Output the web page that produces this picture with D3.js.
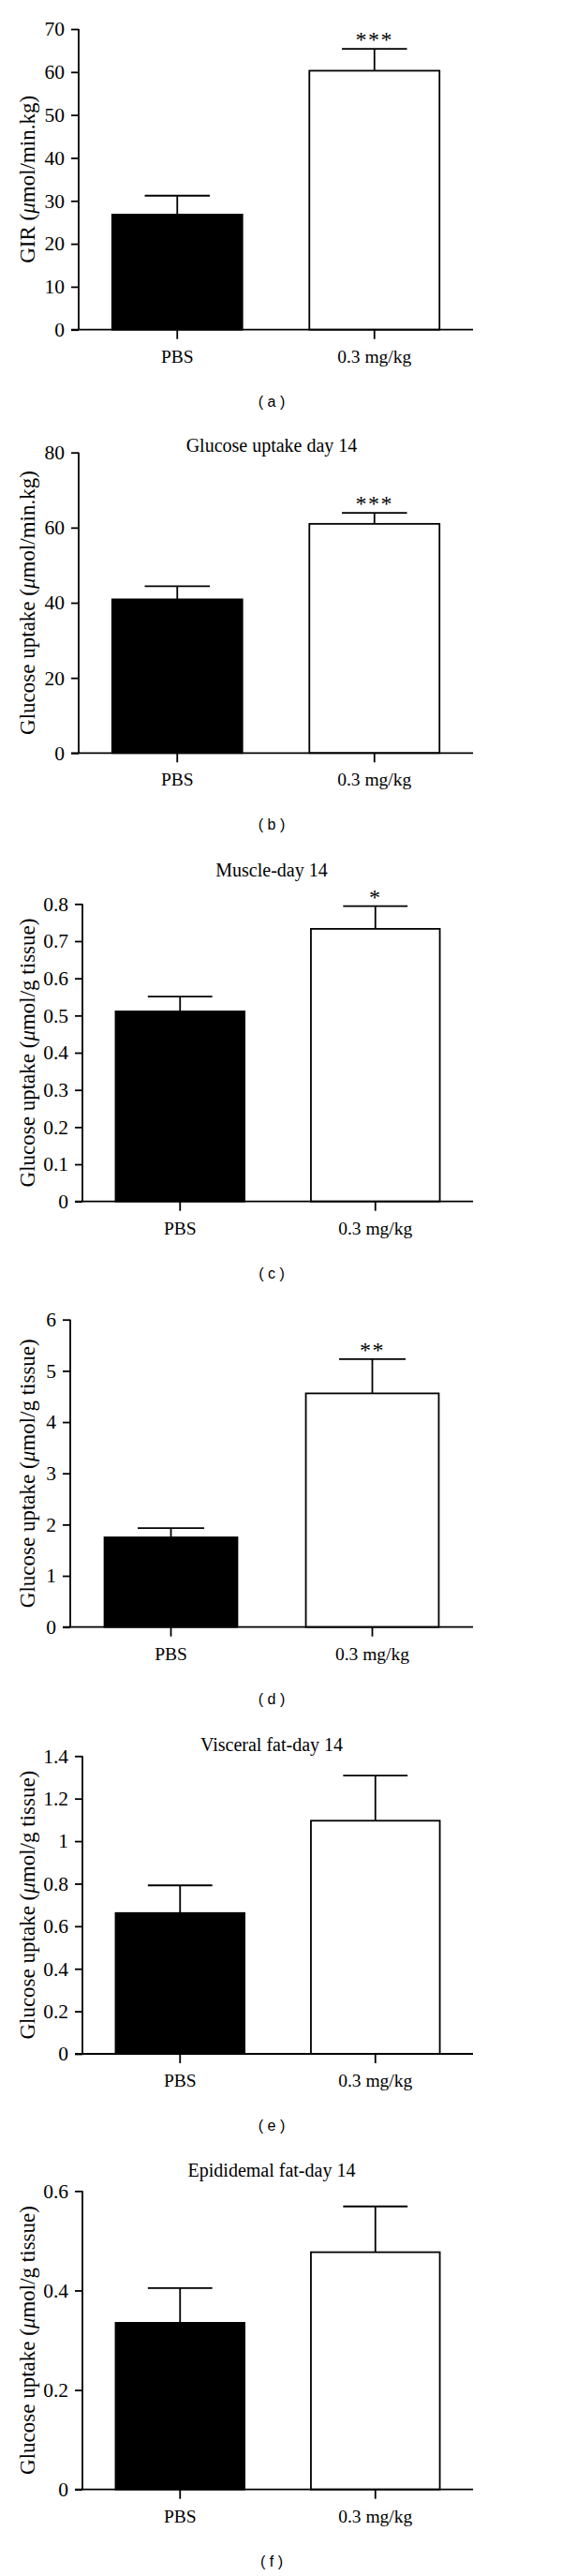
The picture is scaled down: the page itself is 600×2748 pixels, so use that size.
<!DOCTYPE html>
<html>
<head>
<meta charset="utf-8">
<script src="https://cdn.jsdelivr.net/npm/d3@7"></script>
<style>
  html, body { margin: 0; padding: 0; background: #fff; }
  svg { display: block; }
</style>
</head>
<body>
<div id="chart"></div>
<script>
// ---------- data ----------
const categories = ["PBS", "0.3 mg/kg"];

const girMeans = [26.8, 60.3];
const girErrors = [4.4, 5.1];

const uptakeDay14Means = [40.9, 61.0];
const uptakeDay14Errors = [3.5, 2.9];

const muscleMeans = [0.511, 0.733];
const muscleErrors = [0.040, 0.061];

const tissueMeans = [1.75, 4.56];
const tissueErrors = [0.18, 0.67];

const visceralMeans = [0.662, 1.096];
const visceralErrors = [0.130, 0.212];

const epididymalMeans = [0.335, 0.477];
const epididymalErrors = [0.070, 0.092];

const girTicks = [0, 10, 20, 30, 40, 50, 60, 70];
const uptakeDay14Ticks = [0, 20, 40, 60, 80];
const muscleTicks = [0, 0.1, 0.2, 0.3, 0.4, 0.5, 0.6, 0.7, 0.8];
const tissueTicks = [0, 1, 2, 3, 4, 5, 6];
const visceralTicks = [0, 0.2, 0.4, 0.6, 0.8, 1, 1.2, 1.4];
const epididymalTicks = [0, 0.2, 0.4, 0.6];

const panelTitles = ["", "Glucose uptake day 14", "Muscle-day 14", "", "Visceral fat-day 14", "Epididemal fat-day 14"];
const panelLetters = ["a", "b", "c", "d", "e", "f"];
const significance = [["", "***"], ["", "***"], ["", "*"], ["", "**"], ["", ""], ["", ""]];
const yLabelPrefixes = ["GIR (", "Glucose uptake (", "Glucose uptake (", "Glucose uptake (", "Glucose uptake (", "Glucose uptake ("];
const yLabelUnits = ["mol/min.kg)", "mol/min.kg)", "mol/g tissue)", "mol/g tissue)", "mol/g tissue)", "mol/g tissue)"];

const means = [girMeans, uptakeDay14Means, muscleMeans, tissueMeans, visceralMeans, epididymalMeans];
const errors = [girErrors, uptakeDay14Errors, muscleErrors, tissueErrors, visceralErrors, epididymalErrors];
const ticks = [girTicks, uptakeDay14Ticks, muscleTicks, tissueTicks, visceralTicks, epididymalTicks];
const barFills = ["#000000", "#ffffff"];

// ---------- layout ----------
const W = 600, H = 2748;
const layout = [
  { axisX: 84, top: 31,     base: 351.7,  titleY: null },
  { axisX: 84, top: 482.7,  base: 803.3,  titleY: 481.5 },
  { axisX: 88, top: 964.3,  base: 1281.7, titleY: 935 },
  { axisX: 75, top: 1407.7, base: 1735.7, titleY: null },
  { axisX: 88, top: 1873.3, base: 2191,   titleY: 1868 },
  { axisX: 88, top: 2337.3, base: 2655.7, titleY: 2322 }
];
const xEnd = 505;
const centerX = 290;
const serif = "'Liberation Serif', 'Times New Roman', serif";
const sans = "'Liberation Sans', Arial, sans-serif";
const SW = 1.8;

const svg = d3.select("#chart").append("svg")
  .attr("width", W).attr("height", H)
  .attr("viewBox", `0 0 ${W} ${H}`);
svg.append("rect").attr("width", W).attr("height", H).attr("fill", "#fff");

layout.forEach((L, i) => {
  const g = svg.append("g");
  const tk = ticks[i];
  const y = d3.scaleLinear().domain([0, tk[tk.length - 1]]).range([L.base, L.top]);
  const x = d3.scaleBand().domain(categories).range([L.axisX, xEnd])
    .paddingInner(0.34).paddingOuter(0.17);

  const data = categories.map((c, k) => ({ c, m: means[i][k], e: errors[i][k], fill: barFills[k], sig: significance[i][k] }));

  // error bars
  const eb = g.selectAll(".eb").data(data).enter().append("g");
  eb.append("line")
    .attr("x1", d => x(d.c) + x.bandwidth() / 2).attr("x2", d => x(d.c) + x.bandwidth() / 2)
    .attr("y1", d => y(d.m)).attr("y2", d => y(d.m + d.e))
    .attr("stroke", "#000").attr("stroke-width", SW);
  eb.append("line")
    .attr("x1", d => x(d.c) + x.bandwidth() / 4).attr("x2", d => x(d.c) + x.bandwidth() * 3 / 4)
    .attr("y1", d => y(d.m + d.e)).attr("y2", d => y(d.m + d.e))
    .attr("stroke", "#000").attr("stroke-width", SW);

  // bars
  g.selectAll(".bar").data(data).enter().append("rect")
    .attr("x", d => x(d.c)).attr("width", x.bandwidth())
    .attr("y", d => y(d.m)).attr("height", d => y(0) - y(d.m))
    .attr("fill", d => d.fill).attr("stroke", "#000").attr("stroke-width", SW);

  // significance stars
  g.selectAll(".sig").data(data.filter(d => d.sig)).enter().append("text")
    .attr("x", d => x(d.c) + x.bandwidth() / 2)
    .attr("y", d => y(d.m + d.e) - 2)
    .attr("text-anchor", "middle")
    .attr("font-family", serif).attr("font-size", 24)
    .attr("letter-spacing", 1.5)
    .text(d => d.sig);

  // y axis
  const yAxis = d3.axisLeft(y).tickValues(tk).tickSize(8).tickPadding(7)
    .tickFormat(d => String(+d.toFixed(2)));
  const ya = g.append("g").attr("transform", `translate(${L.axisX},0)`).call(yAxis);
  ya.select(".domain").remove();
  ya.append("line").attr("x1", 0).attr("x2", 0).attr("y1", L.base).attr("y2", L.top)
    .attr("stroke", "#000").attr("stroke-width", SW);
  ya.selectAll(".tick line").attr("stroke", "#000").attr("stroke-width", SW);
  ya.selectAll(".tick text").attr("font-family", serif).attr("font-size", 21.5).attr("fill", "#000");

  // x axis
  const xAxis = d3.axisBottom(x).tickSize(10).tickPadding(14);
  const xa = g.append("g").attr("transform", `translate(0,${L.base})`).call(xAxis);
  xa.select(".domain").remove();
  xa.append("line").attr("x1", L.axisX - 8).attr("x2", xEnd).attr("y1", 0).attr("y2", 0)
    .attr("stroke", "#000").attr("stroke-width", SW);
  xa.selectAll(".tick line").attr("stroke", "#000").attr("stroke-width", SW);
  xa.selectAll(".tick text").attr("font-family", serif).attr("font-size", 19.5).attr("fill", "#000")
    .attr("dy", null).attr("y", 35);

  // y label
  const yl = g.append("text")
    .attr("transform", `translate(37,${(L.base + L.top) / 2}) rotate(-90)`)
    .attr("text-anchor", "middle")
    .attr("font-family", serif).attr("font-size", 23).attr("fill", "#000");
  yl.append("tspan").text(yLabelPrefixes[i]);
  yl.append("tspan").attr("font-style", "italic").text("\u03BC");
  yl.append("tspan").text(yLabelUnits[i]);

  // title
  if (panelTitles[i]) {
    g.append("text").attr("x", centerX).attr("y", L.titleY)
      .attr("text-anchor", "middle")
      .attr("font-family", serif).attr("font-size", 20).attr("fill", "#000")
      .text(panelTitles[i]);
  }

  // panel letter
  g.append("text").attr("x", centerX).attr("y", L.base + 82)
    .attr("text-anchor", "middle")
    .attr("font-family", sans).attr("font-size", 16).attr("fill", "#000")
    .style("white-space", "pre")
    .text("( " + panelLetters[i] + " )");
});
</script>
</body>
</html>
